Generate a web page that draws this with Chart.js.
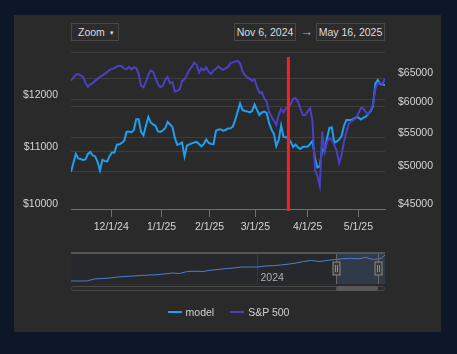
<!DOCTYPE html>
<html>
<head>
<meta charset="utf-8">
<script src="https://cdn.jsdelivr.net/npm/chart.js@4.4.1/dist/chart.umd.min.js"></script>
<style>
  html, body { margin: 0; padding: 0; width: 457px; height: 354px; overflow: hidden; background: #0e1727; font-family: "Liberation Sans", Arial, sans-serif; }
  #card { position: absolute; left: 14px; top: 15px; width: 427px; height: 317px; background: #2a2a2a; }
  canvas { position: absolute; }
  #main { left: 0; top: 0; }
  #nav { left: 71px; top: 252px; }
  .box { position: absolute; top: 23px; height: 18px; box-sizing: border-box; border: 1px solid #474747; background: #2c2c2c; color: #dcdcdc; font-size: 10.5px; line-height: 16px; white-space: nowrap; }
  #zoom { left: 71px; width: 48px; padding-left: 6px; }
  #zoom span { font-size: 6px; margin-left: 4px; vertical-align: 1px; }
  #from { left: 234px; width: 62px; text-align: center; }
  #to { left: 316px; width: 69px; text-align: center; }
  #arrow { position: absolute; left: 300px; top: 23px; color: #b0b0b0; font-size: 13px; line-height: 18px; }
  #scroll { position: absolute; left: 71px; top: 286px; width: 314px; height: 5px; box-sizing: border-box; border: 1px solid #474747; border-radius: 3px; }
  #thumb { position: absolute; top: -1px; height: 5px; background: #585858; border-radius: 3px; }
  #legend { position: absolute; left: 0; top: 305px; width: 457px; display: flex; justify-content: center; font-size: 10.5px; color: #d0d0d0; line-height: 14px; }
  .item { display: flex; align-items: center; margin: 0 8px; }
  .item i { display: inline-block; width: 14px; height: 2px; margin-right: 4px; }
</style>
</head>
<body>
<div id="card"></div>
<div class="box" id="zoom">Zoom<span>▼</span></div>
<div class="box" id="from">Nov 6, 2024</div>
<div id="arrow">→</div>
<div class="box" id="to">May 16, 2025</div>
<canvas id="main" width="457" height="354"></canvas>
<canvas id="nav" width="314" height="32"></canvas>
<div id="scroll"><div id="thumb"></div></div>
<div id="legend"></div>
<script>
// trading days shown in the main chart (ordinal axis, weekends and holidays skipped)
const firstDay = '2024-11-06';
const lastDay = '2025-05-16';
const holidays = ['2024-11-28', '2024-12-25', '2025-01-01', '2025-01-09', '2025-01-20', '2025-02-17', '2025-04-18'];
const markerDay = '2025-03-20';

const monthStarts = ['2024-12-01', '2025-01-01', '2025-02-01', '2025-03-01', '2025-04-01', '2025-05-01'];
const xTickLabels = ['12/1/24', '1/1/25', '2/1/25', '3/1/25', '4/1/25', '5/1/25'];
const leftTicks = [10000, 11000, 12000, 13000];
const rightTicks = [45000, 50000, 55000, 60000, 65000, 70000];

const model = [
  10638, 10800, 10963, 10881, 10872, 10854, 10863, 10963, 11000, 10936,
  10918, 10818, 10665, 10854, 10836, 10827, 10927, 10991, 10991, 11139,
  11139, 11167, 11204, 11374, 11384, 11365, 11412, 11618, 11618, 11374,
  11308, 11489, 11663, 11556, 11518, 11489, 11384, 11374, 11403, 11445,
  11566, 11518, 11470, 11261, 11130, 11148, 11173, 10918, 11120, 11139,
  11158, 11177, 11186, 11148, 11102, 11148, 11232, 11167, 11148, 11145,
  11393, 11422, 11422, 11399, 11412, 11441, 11445, 11476, 11605, 11767,
  11929, 11800, 11780, 11771, 11751, 11780, 11909, 11800, 11702, 11751,
  11767, 11741, 11547, 11422, 11336, 11111, 11223, 11499, 11280, 11274,
  11251, 11186, 11093, 11139, 11083, 11055, 11098, 11098, 11102, 11148,
  11204, 10890, 10719, 10737, 11055, 11009, 11261, 11451, 11460, 11167,
  11195, 11232, 11298, 11489, 11605, 11605, 11605, 11624, 11654, 11654,
  11615, 11644, 11669, 11722, 11771, 11870, 12325, 12407, 12325, 12314,
  12304
];

const sp500 = [
  64591, 65175, 65636, 65784, 65544, 65267, 64174, 63455, 63903, 64174,
  64536, 64901, 65267, 65544, 65821, 66193, 66567, 66755, 66887, 67226,
  67321, 67264, 66849, 66661, 67132, 66661, 67037, 66943, 65821, 63634,
  63365, 64355, 65636, 66474, 66193, 65084, 63903, 63401, 63634, 64718,
  65267, 64119, 64264, 62621, 62744, 63010, 64536, 64809, 65636, 66567,
  67132, 67950, 67511, 66100, 66849, 66474, 67037, 66193, 65821, 66474,
  66755, 67226, 66849, 66567, 66887, 67132, 67835, 67988, 68142, 68276,
  67797, 66286, 65544, 65175, 64901, 64536, 64809, 63455, 62392, 62568,
  61467, 60881, 59141, 58314, 57743, 57015, 58644, 59643, 59058, 59811,
  59727, 60488, 61346, 61520, 60830, 59643, 58644, 58644, 59224, 59727,
  57499, 50225, 49384, 48012, 55949, 52838, 54347, 54963, 54657, 53890,
  52987, 51226, 52394, 54347, 55900, 57174, 57580, 57824, 58150, 58892,
  59811, 59727, 59141, 58726, 59391, 60318, 63099, 64174, 64174, 63993,
  65029
];

// navigator: monthly values from Jan 2022, last point on May 16, 2025
const navFirstMonth = '2022-01-01';
const navValues = [
  3005, 3005, 3005, 3715, 3893, 4070, 4425, 4603, 4780, 4958, 5135, 5207,
  5490, 5845, 5668, 6378, 6485, 6378, 6840, 7088, 7408, 7620, 7975, 7975,
  7975, 8330, 8437, 8685, 8970, 9395, 9928, 10283, 9928, 10283, 10638, 10886,
  11064, 10886, 11348, 10638, 11064, 12236
];
const navYearLine = '2024-01-01';

const modelColor = '#1e9ff0';
const spColor = '#4b40c4';
const labelColor = '#d4d4d4';
const gridColor = '#3d3d3d';
const axisColor = '#707070';
const font = { family: '"Liberation Sans", Arial, sans-serif', size: 10.5 };

const tradingDays = [];
for (let d = new Date(firstDay + 'T00:00:00Z'); d <= new Date(lastDay + 'T00:00:00Z'); d.setUTCDate(d.getUTCDate() + 1)) {
  const s = d.toISOString().slice(0, 10);
  const wd = d.getUTCDay();
  if (wd > 0 && wd < 6 && !holidays.includes(s)) tradingDays.push(s);
}

function ordinalPos(day) {
  const t = Date.parse(day);
  for (let i = 0; i < tradingDays.length - 1; i++) {
    const a = Date.parse(tradingDays[i]), b = Date.parse(tradingDays[i + 1]);
    if (t >= a && t < b) return i + (t - a) / (b - a);
  }
  return tradingDays.length - 1;
}

const markerLine = {
  id: 'markerLine',
  afterDatasetsDraw(chart) {
    const { ctx, chartArea, scales } = chart;
    const x = scales.x.getPixelForValue(tradingDays.indexOf(markerDay));
    ctx.save();
    ctx.strokeStyle = '#ff1e1e';
    ctx.lineWidth = 3;
    ctx.beginPath();
    ctx.moveTo(x, chartArea.top + 5);
    ctx.lineTo(x, chartArea.bottom + 2);
    ctx.stroke();
    ctx.restore();
  }
};

const mainChart = new Chart(document.getElementById('main'), {
  type: 'line',
  data: {
    datasets: [
      { label: 'model', data: model.map((v, i) => ({ x: i, y: v })), yAxisID: 'yL', borderColor: modelColor, borderWidth: 2, pointRadius: 0, tension: 0, order: 1 },
      { label: 'S&P 500', data: sp500.map((v, i) => ({ x: i, y: v })), yAxisID: 'yR', borderColor: spColor, borderWidth: 2, pointRadius: 0, tension: 0, order: 0 }
    ]
  },
  options: {
    responsive: false,
    animation: false,
    layout: { padding: { top: 52, bottom: 115, left: 0, right: 0 } },
    plugins: { legend: { display: false }, tooltip: { enabled: false } },
    scales: {
      x: {
        type: 'linear', min: 0, max: tradingDays.length - 1,
        afterBuildTicks: s => { s.ticks = monthStarts.map(d => ({ value: ordinalPos(d) })); },
        afterFit: s => { s.height = 30; },
        ticks: { callback: (v, i) => xTickLabels[i], color: labelColor, font, padding: 4, maxRotation: 0, autoSkip: false },
        grid: { drawOnChartArea: false, tickLength: 8, color: axisColor },
        border: { color: axisColor }
      },
      yL: {
        type: 'logarithmic', position: 'left', min: leftTicks[0], max: leftTicks[leftTicks.length - 1],
        afterBuildTicks: s => { s.ticks = leftTicks.map(v => ({ value: v })); },
        afterFit: s => { s.width = 71; },
        ticks: { callback: v => v === leftTicks[leftTicks.length - 1] ? '' : '$' + v, color: labelColor, font, padding: 13, labelOffset: -5 },
        grid: { color: gridColor, drawTicks: false },
        border: { display: false }
      },
      yR: {
        type: 'logarithmic', position: 'right', min: rightTicks[0], max: rightTicks[rightTicks.length - 1],
        afterBuildTicks: s => { s.ticks = rightTicks.map(v => ({ value: v })); },
        afterFit: s => { s.width = 72; },
        ticks: { callback: v => v === rightTicks[rightTicks.length - 1] ? '' : '$' + v, color: labelColor, font, padding: 13, labelOffset: -5 },
        grid: { color: gridColor, drawTicks: false },
        border: { display: false }
      }
    }
  },
  plugins: [markerLine]
});

// navigator
function monthPos(day) {
  const [y, m, d] = day.split('-').map(Number);
  const [y0, m0] = navFirstMonth.split('-').map(Number);
  const dim = new Date(Date.UTC(y, m, 0)).getUTCDate();
  return (y - y0) * 12 + (m - m0) + (d - 1) / dim;
}
const navDates = navValues.map((v, k) => {
  if (k === navValues.length - 1) return lastDay;
  const [y0, m0] = navFirstMonth.split('-').map(Number);
  const mm = m0 - 1 + k;
  return (y0 + Math.floor(mm / 12)) + '-' + String(mm % 12 + 1).padStart(2, '0') + '-01';
});

const navDecor = {
  id: 'navDecor',
  beforeDatasetsDraw(chart) {
    const { ctx, chartArea: a, scales } = chart;
    const x0 = scales.x.getPixelForValue(monthPos(firstDay));
    const gx = Math.round(scales.x.getPixelForValue(monthPos(navYearLine))) + 0.5;
    ctx.save();
    ctx.fillStyle = '#27282b';
    ctx.fillRect(a.left, a.top, a.width, a.height);
    ctx.fillStyle = 'rgba(80,110,160,0.25)';
    ctx.fillRect(x0, a.top, a.right - x0, a.height);
    ctx.strokeStyle = '#3a3a3a';
    ctx.lineWidth = 1;
    ctx.beginPath(); ctx.moveTo(gx, a.top); ctx.lineTo(gx, a.bottom); ctx.stroke();
    ctx.fillStyle = '#b0b0b0';
    ctx.font = '10.5px "Liberation Sans", Arial, sans-serif';
    ctx.textBaseline = 'middle';
    ctx.fillText(navYearLine.slice(0, 4), gx + 3, a.top + 26);
    ctx.restore();
  },
  afterDatasetsDraw(chart) {
    const { ctx, chartArea: a, scales } = chart;
    const xs = [scales.x.getPixelForValue(monthPos(firstDay)), Math.min(scales.x.getPixelForValue(monthPos(lastDay)), a.right - 7)];
    ctx.save();
    ctx.strokeStyle = '#555';
    ctx.lineWidth = 2;
    ctx.beginPath(); ctx.moveTo(a.left, a.top + 1); ctx.lineTo(a.right, a.top + 1); ctx.stroke();
    xs.forEach(x => {
      x = Math.round(x) + 0.5;
      ctx.lineWidth = 1;
      ctx.strokeStyle = '#666';
      ctx.beginPath(); ctx.moveTo(x, a.top + 2); ctx.lineTo(x, a.bottom); ctx.stroke();
      ctx.fillStyle = '#3c3c3c';
      ctx.strokeStyle = '#8a8a8a';
      ctx.fillRect(x - 3.5, a.top + 10, 7, 13);
      ctx.strokeRect(x - 3.5, a.top + 10, 7, 13);
      ctx.beginPath();
      ctx.moveTo(x - 1, a.top + 13); ctx.lineTo(x - 1, a.top + 20);
      ctx.moveTo(x + 1, a.top + 13); ctx.lineTo(x + 1, a.top + 20);
      ctx.stroke();
    });
    ctx.restore();
  }
};

const navChart = new Chart(document.getElementById('nav'), {
  type: 'line',
  data: { datasets: [{ data: navValues.map((v, i) => ({ x: monthPos(navDates[i]), y: v })), borderColor: '#4a7fd0', borderWidth: 1, pointRadius: 0, tension: 0 }] },
  options: {
    responsive: false,
    animation: false,
    layout: { padding: 0 },
    plugins: { legend: { display: false }, tooltip: { enabled: false } },
    scales: {
      x: { type: 'linear', display: false, min: 0, max: monthPos(lastDay) },
      y: { display: false, min: 1940, max: 13300 }
    }
  },
  plugins: [navDecor]
});

// scrollbar thumb follows navigator window
const nx = navChart.scales.x;
const thumb = document.getElementById('thumb');
const t0 = nx.getPixelForValue(monthPos(firstDay));
thumb.style.left = (t0 - 1) + 'px';
thumb.style.width = (nx.right - 7 - t0) + 'px';

// legend from the datasets
const legend = document.getElementById('legend');
mainChart.data.datasets.forEach(ds => {
  const it = document.createElement('div');
  it.className = 'item';
  it.innerHTML = '<i style="background:' + ds.borderColor + '"></i>';
  it.appendChild(document.createTextNode(ds.label));
  legend.appendChild(it);
});
</script>
</body>
</html>
